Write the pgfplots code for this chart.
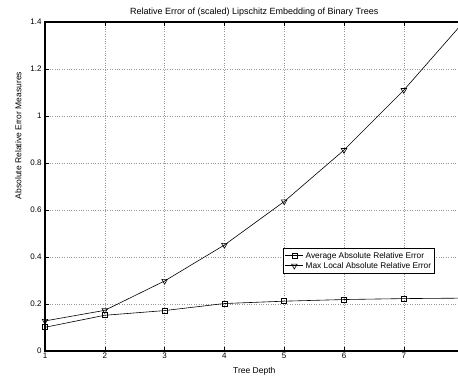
\documentclass[border=0pt]{standalone}
\usepackage{fontspec}
\setmainfont{Liberation Sans}
\usepackage{pgfplots}
\pgfplotsset{compat=1.18}
\begin{document}
\begin{tikzpicture}[x=1pt,y=1pt]
\begin{axis}[
  at={(45pt,24pt)}, anchor=south west,
  scale only axis, width=418.6pt, height=329pt,
  xmin=1, xmax=8, ymin=0, ymax=1.4,
  xtick={1,2,3,4,5,6,7}, ytick={0,0.2,0.4,0.6,0.8,1,1.2,1.4},
  yticklabels={0,0.2,0.4,0.6,0.8,1,1.2,1.4},
  tick align=inside, major tick length=4pt,
  xtick pos=both, ytick pos=left,
  grid=major, grid style={dotted, gray!80, line width=0.5pt},
  axis line style={line width=1.2pt},
  tick style={black, line width=0.5pt},
  /pgf/number format/assume math mode=true,
  tick label style={font=\fontsize{8}{9}\selectfont},
  xticklabel style={yshift=2pt},
  label style={font=\fontsize{8.5}{10}\selectfont},
  title style={font=\fontsize{9}{10}\selectfont, yshift=-4pt},
  title={Relative Error of (scaled) Lipschitz Embedding of Binary Trees},
  xlabel={Tree Depth}, ylabel={Absolute Relative Error Measures},
  xlabel style={yshift=-2pt}, ylabel style={yshift=2pt, xshift=51pt},
  legend style={font=\fontsize{8.3}{9.5}\selectfont, at={(rel axis cs:0.932,0.313)}, anchor=north east, draw=black, line width=1pt, inner sep=1.5pt, row sep=-1.5pt, legend cell align=left},
  legend image code/.code={
    \draw[#1, line width=0.6pt] (0pt,0pt) -- (18pt,0pt);
    \draw[#1, line width=0.6pt, mark repeat=2, mark phase=2] plot coordinates {(0pt,0pt) (9pt,0pt) (18pt,0pt)};
  },
]
\addplot[black, line width=0.6pt, mark=square, mark size=2.5pt, mark options={solid}] coordinates {
(1,0.101) (2,0.152) (3,0.172) (4,0.202) (5,0.212) (6,0.219) (7,0.223) (8,0.225)};
\addlegendentry{Average Absolute Relative Error}
\addplot[black, line width=0.6pt, mark=triangle, mark size=3.2pt, mark options={solid, rotate=180}] coordinates {
(1,0.128) (2,0.173) (3,0.298) (4,0.451) (5,0.636) (6,0.855) (7,1.11) (8,1.40)};
\addlegendentry{Max Local Absolute Relative Error}
\end{axis}
\pgfresetboundingbox
\useasboundingbox (0,0) rectangle (458,375);
\end{tikzpicture}
\end{document}
